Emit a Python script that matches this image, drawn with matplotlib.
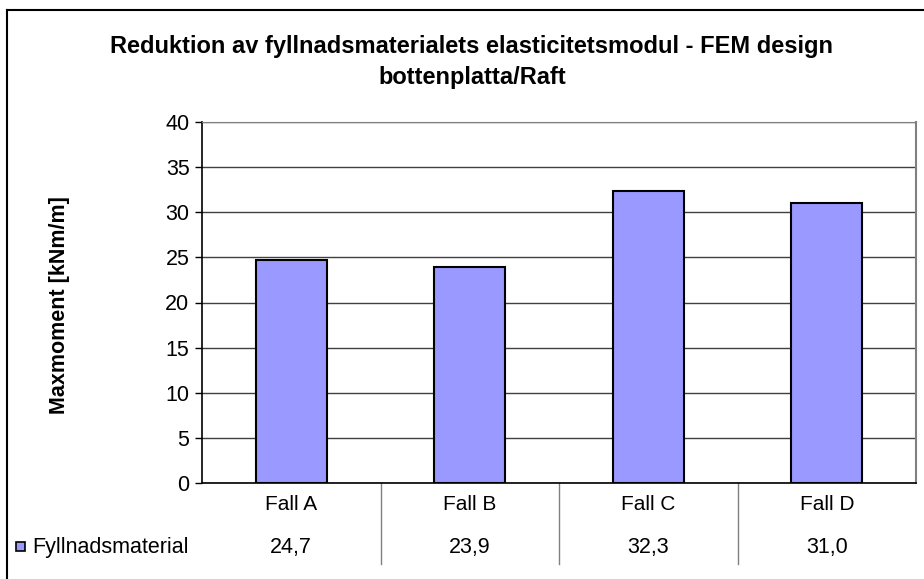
"""Excel-style bar chart with data table: Maxmoment per Fall."""

import matplotlib

matplotlib.use("Agg")
import matplotlib.pyplot as plt  # noqa: E402
from matplotlib.lines import Line2D  # noqa: E402
from matplotlib.patches import Rectangle  # noqa: E402
from matplotlib.transforms import blended_transform_factory  # noqa: E402

# data
categories = ["Fall A", "Fall B", "Fall C", "Fall D"]
values = [24.7, 23.9, 32.3, 31.0]
series_name = "Fyllnadsmaterial"
title = "Reduktion av fyllnadsmaterialets elasticitetsmodul - FEM design\nbottenplatta/Raft"
ylabel = "Maxmoment [kNm/m]"
yticks = [0, 5, 10, 15, 20, 25, 30, 35, 40]

plt.rcParams["font.family"] = ["Liberation Sans", "DejaVu Sans"]

W, H = 924, 579
fig = plt.figure(figsize=(W / 100, H / 100), dpi=100)
ax = fig.add_axes([202 / W, 1 - 483 / H, (916 - 202) / W, (483 - 122) / H])

x = list(range(len(categories)))
ax.bar(x, values, width=0.4, color="#9999FF", edgecolor="black", linewidth=1.5, zorder=3)

ax.set_xlim(-0.5, len(categories) - 0.5)
ax.set_ylim(0, 40)
ax.set_yticks(yticks)
ax.set_yticklabels([str(v) for v in yticks], fontsize=15.5)
ax.tick_params(axis="y", direction="out", length=5, width=1, pad=4, colors="black")
ax.set_xticks([])
ax.yaxis.grid(True, color="#404040", linewidth=1)
ax.set_axisbelow(True)

ax.spines["left"].set_color("black")
ax.spines["bottom"].set_color("black")
ax.spines["top"].set_color("#808080")
ax.spines["right"].set_color("#808080")
ax.spines["right"].set_linewidth(1.5)
for s in ["left", "bottom"]:
    ax.spines[s].set_linewidth(1.2)

# y label
fig.text(60 / W, 1 - 305 / H, ylabel, rotation=90, ha="center", va="center",
         fontsize=15.5, fontweight="bold")

# title
fig.text(472 / W, 1 - 62 / H, title, ha="center", va="center", fontsize=17,
         fontweight="bold", linespacing=1.4)

# data table under the axis
tr = blended_transform_factory(ax.transData, ax.transAxes)
row1 = -(505 - 483) / (483 - 122)
row2 = -(548 - 483) / (483 - 122)
table_bottom = -(564 - 483) / (483 - 122)
for xi, cat, v in zip(x, categories, values):
    ax.text(xi, row1, cat, transform=tr, ha="center", va="center", fontsize=15)
    ax.text(xi, row2, f"{v:.1f}".replace(".", ","), transform=tr, ha="center",
            va="center", fontsize=15.5)
for xb in [i + 0.5 for i in x[:-1]]:
    ax.add_line(Line2D([xb, xb], [0, table_bottom], transform=tr, color="#808080",
                       linewidth=1, clip_on=False))

# legend key in the table
fig.add_artist(Rectangle((16 / W, 1 - 551 / H), 9 / W, 9 / H, facecolor="#9999FF",
                         edgecolor="black", linewidth=1.2, transform=fig.transFigure))
fig.text(32 / W, 1 - 547 / H, series_name, ha="left", va="center", fontsize=15.5)

# chart frame (left and top edges visible)
fig.add_artist(Line2D([7 / W, 7 / W], [0, 1 - 10 / H], color="black", linewidth=1.5,
                      transform=fig.transFigure))
fig.add_artist(Line2D([7 / W, 1], [1 - 10 / H, 1 - 10 / H], color="black", linewidth=1.5,
                      transform=fig.transFigure))

fig.savefig("out.png", dpi=100)
